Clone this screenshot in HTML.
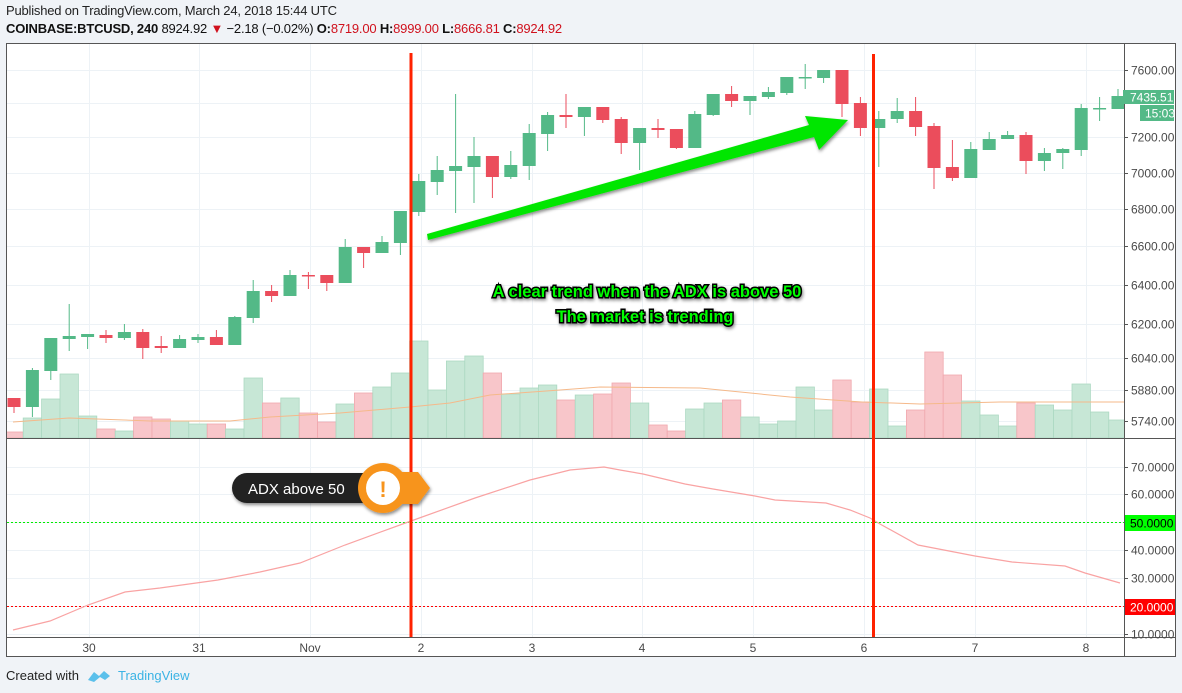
<!DOCTYPE html>
<html><head><meta charset="utf-8"><style>
body{margin:0;width:1182px;height:693px;background:#f0f3f7;overflow:hidden;font-family:"Liberation Sans",sans-serif;position:relative}
.h1{position:absolute;left:6px;top:3px;font-size:13px;color:#222;letter-spacing:-0.2px}
.h2{position:absolute;left:6px;top:21px;font-size:13px;color:#111;font-weight:bold;letter-spacing:-0.2px}
.h2 span{font-weight:normal}
.h2 .r{color:#d0111d;font-weight:normal}
svg{position:absolute;left:0;top:0}
</style></head><body>
<div class="h1">Published on TradingView.com, March 24, 2018 15:44 UTC</div>
<div class="h2">COINBASE:BTCUSD, 240 <span>8924.92 <span style="color:#d0111d">▼</span> −2.18 (−0.02%)</span> O:<span class="r">8719.00</span> H:<span class="r">8999.00</span> L:<span class="r">8666.81</span> C:<span class="r">8924.92</span></div>
<svg id="s" width="1182" height="693" xmlns="http://www.w3.org/2000/svg">
<defs>
<clipPath id="cm"><rect x="7" y="44" width="1117" height="394"/></clipPath>
<clipPath id="ca"><rect x="7" y="439" width="1117" height="198"/></clipPath>
<filter id="sh" x="-20%" y="-50%" width="140%" height="200%"><feDropShadow dx="1" dy="2" stdDeviation="1.5" flood-color="#000" flood-opacity="0.45"/></filter>
</defs>
<rect x="6.5" y="43.5" width="1169" height="613" fill="#fff" stroke="#555" stroke-width="1"/>
<g id="grid" stroke="#edf2f6" stroke-width="1"></g>
<g id="vol" clip-path="url(#cm)"></g>
<polyline clip-path="url(#cm)" fill="none" stroke="#f5b98a" stroke-width="1" points="13,422 69,418 150,421 230,421 270,417 340,413 410,407 450,403 490,395 560,390 600,387 700,388 790,397 862,402 920,404 1000,402 1124,402"/>
<g id="cdl" clip-path="url(#cm)"></g>
<line x1="7" y1="438.5" x2="1175" y2="438.5" stroke="#555"/>
<line x1="7" y1="637.5" x2="1175" y2="637.5" stroke="#555"/>
<line x1="1124.5" y1="44" x2="1124.5" y2="656" stroke="#555"/>
<g clip-path="url(#ca)">
<line x1="7" y1="522.5" x2="1124" y2="522.5" stroke="#00ee00" stroke-dasharray="2,2"/>
<line x1="7" y1="606.5" x2="1124" y2="606.5" stroke="#ff0000" stroke-dasharray="2,2"/>
<polyline fill="none" stroke="#f9a3a3" stroke-width="1.2" points="13,630 50,621 88,605 125,592 160,588 218,580 260,572 300,563 345,545 411,521 475,498 530,480 570,470 604,467 620,470 643,474 685,484 713,489 755,496 775,500 826,503 850,510 870,518 880,524 918,545 975,556 1012,562 1065,566 1085,573 1120,583"/>
</g>
<g font-size="12" fill="#4a4a4a" id="ax"></g>
<rect x="1123" y="90" width="51" height="14" fill="#53b987"/>
<text x="1130" y="101.5" font-size="12" fill="#fff">7435.51</text>
<rect x="1140" y="105" width="34" height="16" fill="#53b987"/>
<text x="1145" y="117.5" font-size="12" fill="#fff">15:03</text>
<rect x="1125" y="515" width="50" height="16" fill="#00ff00"/>
<text x="1130" y="527.5" font-size="12" fill="#000">50.0000</text>
<rect x="1125" y="599" width="50" height="16" fill="#ff0000"/>
<text x="1130" y="611.5" font-size="12" fill="#fff">20.0000</text>
<line x1="411" y1="53" x2="411" y2="637" stroke="#ff2200" stroke-width="3"/>
<line x1="873.5" y1="54" x2="873.5" y2="637" stroke="#ff2200" stroke-width="3"/>
<polygon filter="url(#sh)" fill="#00e600" points="427,234 809,125 805,116 848,120 819,150 814,137 428,240"/>
<g font-size="16.5" font-weight="bold" fill="#00ff00" stroke="#000" stroke-width="3" paint-order="stroke" text-anchor="middle" filter="url(#sh)">
<text x="647" y="297">A clear trend when the ADX is above 50</text>
<text x="645" y="322">The market is trending</text>
</g>
<g filter="url(#sh)">
<rect x="232" y="473" width="150" height="30" rx="15" fill="#222"/>
<polygon points="395,472 418,472 430,488 418,504 395,504" fill="#f7941d"/>
<circle cx="383" cy="488" r="25" fill="#f7941d"/>
<circle cx="383" cy="488" r="17" fill="#fff"/>
</g>
<text x="248" y="494" font-size="15" fill="#fff">ADX above 50</text>
<text x="383" y="497" font-size="22" font-weight="bold" fill="#f7941d" text-anchor="middle">!</text>
<text x="6" y="680" font-size="13" fill="#222">Created with</text>
<path d="M88,680 L94,672 L99,676 L104,671 L110,676 L105,680 L100,677 L94,682 Z" fill="#5bc0eb"/>
<text x="118" y="680" font-size="13" fill="#3bb3e4">TradingView</text>
</svg>
<script>
var NS="http://www.w3.org/2000/svg";
function el(p,t,a){var e=document.createElementNS(NS,t);for(var k in a)e.setAttribute(k,a[k]);document.getElementById(p).appendChild(e);return e;}
var C=[[398,407,398,413,0],[370,407,368,417,1],[338,371,338,380,1],[336,339,304,351,1],[334,337,334,349,1],[335,338,330,343,0],[332,338,324,340,1],[332,348,329,359,0],[346,348,336,353,0],[339,348,335,348,1],[337,340,334,343,1],[337,345,330,345,0],[317,345,316,345,1],[291,318,280,323,1],[291,296,285,302,0],[275,296,270,296,1],[275,276,272,289,0],[275,283,275,291,0],[247,283,239,283,1],[247,253,247,268,0],[242,253,236,253,1],[211,243,211,255,1],[181,212,174,216,1],[170,182,156,195,1],[166,171,94,213,1],[156,167,137,203,1],[156,177,156,198,0],[165,177,151,179,1],[133,166,124,180,1],[115,134,112,151,1],[115,117,94,128,0],[107,117,107,136,1],[107,120,107,123,0],[119,143,117,154,0],[128,143,128,170,1],[128,130,119,138,0],[129,148,129,149,0],[114,148,111,148,1],[94,115,94,116,1],[94,101,86,107,0],[96,101,96,115,1],[92,97,87,99,1],[77,93,77,95,1],[77,78,64,89,1],[70,78,70,83,1],[70,104,70,117,0],[103,128,97,136,0],[119,128,111,167,1],[111,119,98,123,1],[111,127,97,136,0],[126,168,123,189,0],[167,178,140,181,0],[149,178,142,178,1],[139,150,132,150,1],[135,139,131,139,1],[135,161,132,174,0],[153,161,148,171,1],[149,153,148,169,1],[108,150,104,156,1],[108,109,97,121,1],[96,109,89,109,1]];
var V=[432,418,399,374,416,429,431,417,419,421,424,424,429,378,403,398,413,422,404,393,387,373,341,390,361,356,373,394,388,385,400,395,394,383,403,425,431,409,403,400,417,424,421,387,410,380,402,389,426,410,352,375,401,415,426,403,405,410,384,412,420];
[70,103,137,173,209,246,285,324,358,390,421,467,494,522,550,578,606,634].forEach(function(y){el("grid","line",{x1:7,x2:1124,y1:y+.5,y2:y+.5});});
var days=[[89,"30"],[199,"31"],[310,"Nov"],[421,"2"],[532,"3"],[642,"4"],[753,"5"],[864,"6"],[975,"7"],[1086,"8"]];
days.forEach(function(d){el("grid","line",{x1:d[0]+.5,x2:d[0]+.5,y1:44,y2:637});var t=el("ax","text",{x:d[0],y:652,"text-anchor":"middle"});t.textContent=d[1];});
[[70,"7600.00"],[137,"7200.00"],[173,"7000.00"],[209,"6800.00"],[246,"6600.00"],[285,"6400.00"],[324,"6200.00"],[358,"6040.00"],[390,"5880.00"],[421,"5740.00"],[467,"70.0000"],[494,"60.0000"],[550,"40.0000"],[578,"30.0000"],[634,"10.0000"]].forEach(function(p){el("ax","line",{x1:1124,x2:1128,y1:p[0]+.5,y2:p[0]+.5,stroke:"#555"});var t=el("ax","text",{x:1131,y:p[0]+4.5});t.textContent=p[1];});
for(var i=0;i<61;i++){var c=14+18.4*i,d=C[i],g=d[4];
el("vol","rect",{x:c-9.2,y:V[i],width:18.4,height:438-V[i],fill:g?"#c7e7d6":"#f8c6ca",stroke:g?"#acd9c2":"#f0a8ae","stroke-width":0.8});
var col=g?"#53b987":"#eb4d5c";
el("cdl","line",{x1:c,x2:c,y1:d[2],y2:d[3],stroke:col,"stroke-width":1});
el("cdl","rect",{x:c-6.5,y:d[0],width:13,height:Math.max(1.5,d[1]-d[0]),fill:col});}
</script>
</body></html>
